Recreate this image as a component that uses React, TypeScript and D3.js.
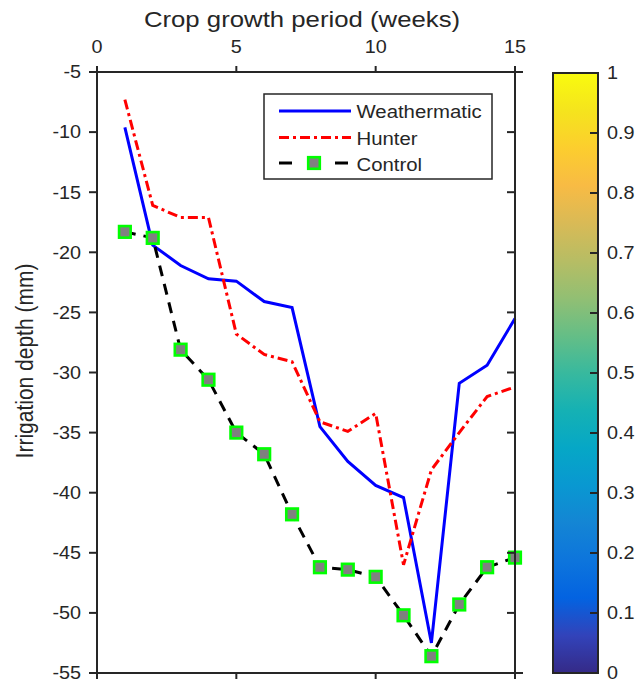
import React from "react";
import * as d3 from "d3";

const weeks = [1, 2, 3, 4, 5, 6, 7, 8, 9, 10, 11, 12, 13, 14, 15];
const weathermatic = [-9.6, -19.4, -21.1, -22.2, -22.4, -24.1, -24.6, -34.5, -37.4, -39.4, -40.4, -52.5, -30.9, -29.4, -25.5];
const hunter = [-7.3, -16.1, -17.1, -17.1, -26.8, -28.5, -29.1, -34.1, -34.9, -33.4, -46.0, -38.1, -35.0, -32.0, -31.2];
const control = [-18.3, -18.8, -28.1, -30.6, -35.0, -36.8, -41.8, -46.2, -46.4, -47.0, -50.2, -53.6, -49.3, -46.2, -45.4];

const xTicks = [0, 5, 10, 15];
const yTicks = [-5, -10, -15, -20, -25, -30, -35, -40, -45, -50, -55];
const cbTicks = [0, 0.1, 0.2, 0.3, 0.4, 0.5, 0.6, 0.7, 0.8, 0.9, 1];
const legendLabels = ["Weathermatic", "Hunter", "Control"];
const xTitle = "Crop growth period (weeks)";
const yTitle = "Irrigation depth (mm)";

// parula colormap samples (every 4th of 64)
const parula = [
  [0.2081, 0.1663, 0.5292],
  [0.1959, 0.2645, 0.7279],
  [0.0117, 0.3875, 0.882],
  [0.0498, 0.4586, 0.8641],
  [0.0793, 0.52, 0.8312],
  [0.0343, 0.5966, 0.8199],
  [0.0228, 0.6535, 0.7768],
  [0.0843, 0.6928, 0.7062],
  [0.2178, 0.725, 0.6193],
  [0.3953, 0.7459, 0.5244],
  [0.5709, 0.7485, 0.4494],
  [0.7184, 0.7411, 0.3905],
  [0.8507, 0.7299, 0.336],
  [0.9739, 0.7314, 0.2666],
  [0.988, 0.8066, 0.1794],
  [0.9589, 0.8949, 0.1132],
  [0.9763, 0.9831, 0.0538],
];

const W = 636;
const H = 686;
const X0 = 97, X1 = 515, Y0 = 72, Y1 = 673;
const CBX0 = 553, CBX1 = 598;
const AX = "#262626";
const FONT = "'Liberation Sans', Arial, sans-serif";
const SX = 1.1;

export default function App() {
  const x = d3.scaleLinear().domain([0, 15]).range([X0, X1]);
  const y = d3.scaleLinear().domain([-5, -55]).range([Y0, Y1]);
  const cb = d3.scaleLinear().domain([0, 1]).range([Y1, Y0 + 1]);

  const line = d3
    .line<number>()
    .x((_, i) => x(weeks[i]))
    .y((d) => y(d));

  const T = (props: { x: number; y: number; anchor?: string; size?: number; sx?: number; children: string }) => (
    <g transform={`translate(${props.x},${props.y}) scale(${props.sx ?? SX},1)`}>
      <text x={0} y={0} textAnchor={props.anchor ?? "start"} fontSize={props.size ?? 18} fill={AX} fontFamily={FONT}>
        {props.children}
      </text>
    </g>
  );

  const legendY = [111, 137.5, 163];
  const legendTextY = [118, 144.5, 170.5];

  const Marker = ({ cx, cy }: { cx: number; cy: number }) => (
    <rect x={cx - 5.8} y={cy - 5.8} width={11.6} height={11.6} fill="#808080" stroke="#00ff00" strokeWidth={2.6} />
  );

  return (
    <svg width={W} height={H} style={{ position: "absolute", left: 0, top: 0, background: "#fff" }}>
      <defs>
        <linearGradient id="parula" x1="0" y1="1" x2="0" y2="0">
          {parula.map((c, i) => (
            <stop
              key={i}
              offset={i / (parula.length - 1)}
              stopColor={d3.rgb(c[0] * 255, c[1] * 255, c[2] * 255).formatHex()}
            />
          ))}
        </linearGradient>
      </defs>
      <rect x={0} y={0} width={W} height={H} fill="#fff" />

      {/* data lines */}
      <path d={line(weathermatic) ?? ""} fill="none" stroke="#0000ff" strokeWidth={3} />
      <path d={line(hunter) ?? ""} fill="none" stroke="#ff0000" strokeWidth={3} strokeDasharray="10,4,3,4" />
      <path d={line(control) ?? ""} fill="none" stroke="#000" strokeWidth={3} strokeDasharray="11,8" />
      {control.map((v, i) => (
        <Marker key={i} cx={x(weeks[i])} cy={y(v)} />
      ))}

      {/* axes box */}
      <g stroke={AX} strokeWidth={2} fill="none">
        <line x1={X0 - 8} x2={X1 + 8} y1={Y0} y2={Y0} />
        <line x1={X0 - 8} x2={X1 + 8} y1={Y1} y2={Y1} />
        <line x1={X0} x2={X0} y1={Y0 - 5} y2={Y1 + 6} />
        <line x1={X1} x2={X1} y1={Y0 - 5} y2={Y1 + 6} />
        {xTicks.map((t) => (
          <g key={t}>
            <line x1={x(t)} x2={x(t)} y1={Y0 - 6} y2={Y0} />
            <line x1={x(t)} x2={x(t)} y1={Y1} y2={Y1 + 6} />
          </g>
        ))}
        {yTicks.map((t) => (
          <g key={t}>
            <line x1={X0 - 8} x2={X0} y1={y(t)} y2={y(t)} />
            <line x1={X1 - 8} x2={X1} y1={y(t)} y2={y(t)} />
          </g>
        ))}
      </g>

      {xTicks.map((t) => (
        <T key={t} x={x(t)} y={53} anchor="middle">
          {String(t)}
        </T>
      ))}
      {yTicks.map((t) => (
        <T key={t} x={81} y={y(t) + 6.3} anchor="end">
          {String(t)}
        </T>
      ))}

      <T x={302} y={27} anchor="middle" size={23} sx={1.12}>
        {xTitle}
      </T>
      <g transform={`translate(33,361) scale(1.12,1) rotate(-90)`}>
        <text x={0} y={0} textAnchor="middle" fontSize={21} fill={AX} fontFamily={FONT}>
          {yTitle}
        </text>
      </g>

      {/* legend */}
      <rect x={264} y={94} width={228} height={85} fill="#fff" stroke={AX} strokeWidth={1.5} />
      <line x1={279} x2={351} y1={legendY[0]} y2={legendY[0]} stroke="#0000ff" strokeWidth={3} />
      <line x1={279} x2={351} y1={legendY[1]} y2={legendY[1]} stroke="#ff0000" strokeWidth={3} strokeDasharray="10,4,3,4" />
      <line x1={279} x2={292} y1={legendY[2]} y2={legendY[2]} stroke="#000" strokeWidth={3} />
      <line x1={335} x2={348} y1={legendY[2]} y2={legendY[2]} stroke="#000" strokeWidth={3} />
      <Marker cx={314} cy={legendY[2]} />
      {legendLabels.map((l, i) => (
        <T key={l} x={356.5} y={legendTextY[i]} size={18.5}>
          {l}
        </T>
      ))}

      {/* colorbar */}
      <rect x={CBX0} y={Y0 + 1} width={CBX1 - CBX0} height={Y1 - Y0 - 1} fill="url(#parula)" />
      <g stroke={AX} strokeWidth={2} fill="none">
        <rect x={CBX0} y={Y0 + 1} width={CBX1 - CBX0} height={Y1 - Y0 - 1} />
        {cbTicks.map((t) => (
          <line key={t} x1={CBX1 - 8} x2={CBX1} y1={cb(t)} y2={cb(t)} />
        ))}
      </g>
      {cbTicks.map((t) => (
        <T key={t} x={607} y={cb(t) + 6.3}>
          {String(t)}
        </T>
      ))}
    </svg>
  );
}
